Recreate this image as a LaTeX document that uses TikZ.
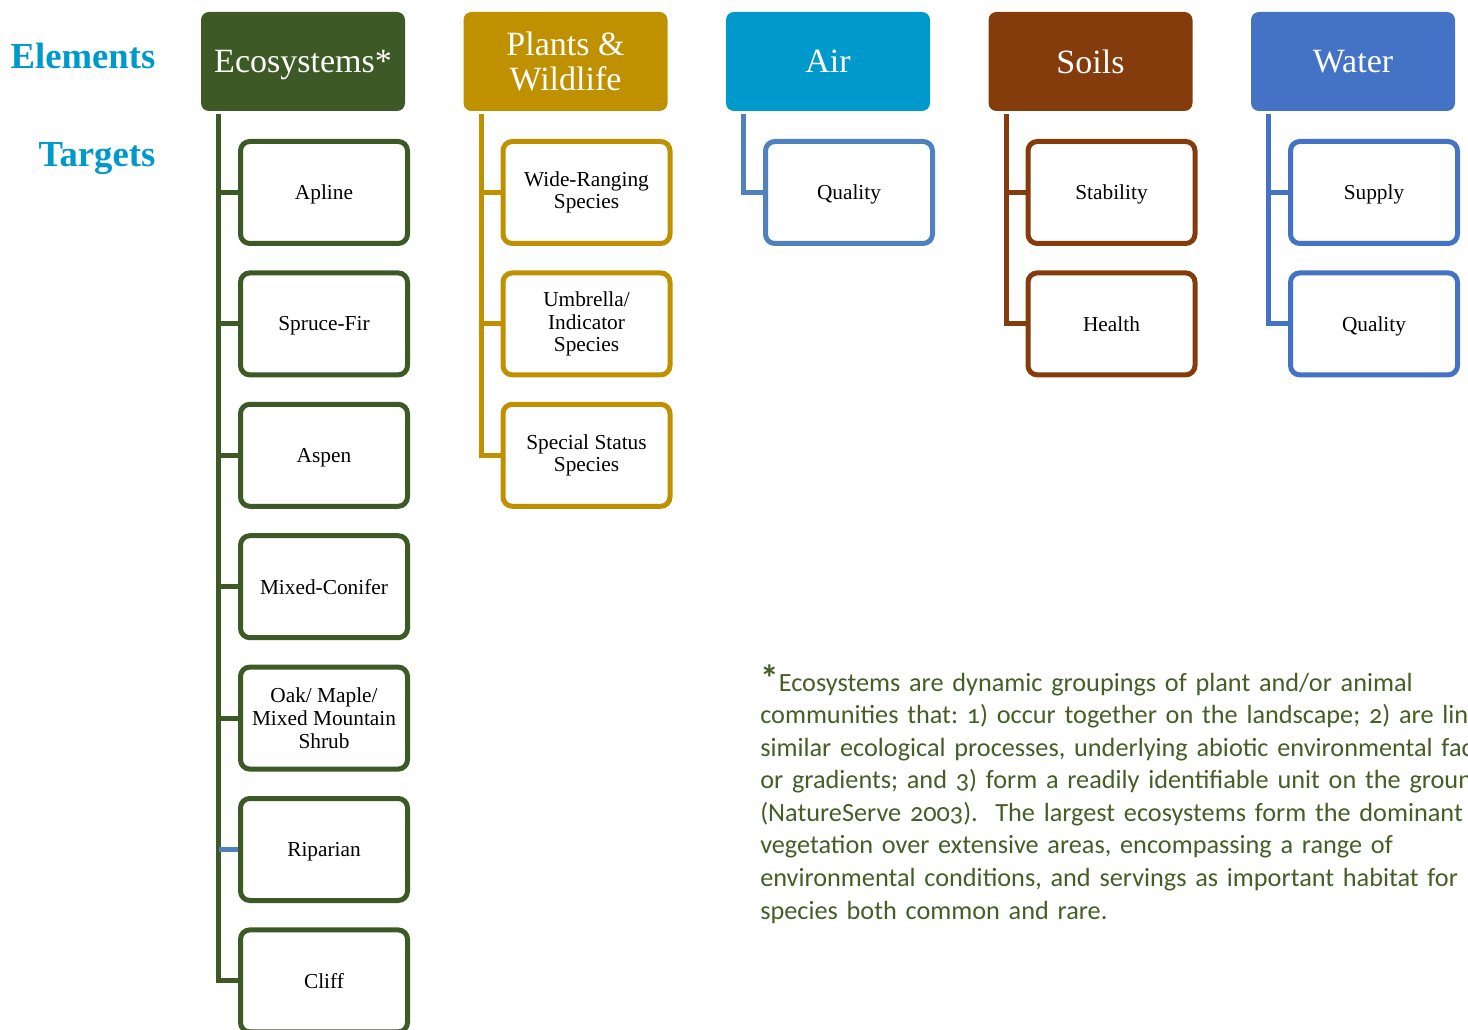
\documentclass[tikz,border=0pt]{standalone}
\usepackage{fontspec}
\setmainfont{Liberation Serif}
\newfontfamily\notefont[Numbers=OldStyle]{Carlito}
\usetikzlibrary{positioning}

\definecolor{ecogreen}{RGB}{61,89,37}
\definecolor{plantgold}{RGB}{191,144,0}
\definecolor{aircyan}{RGB}{0,153,204}
\definecolor{airline}{RGB}{79,129,189}
\definecolor{soilbrown}{RGB}{132,60,12}
\definecolor{waterblue}{RGB}{68,114,196}
\definecolor{notegreen}{RGB}{70,94,38}

\begin{document}
\begin{tikzpicture}[x=0.75pt, y=-0.75pt,
  element/.style = {shape=rectangle, rounded corners=6pt, minimum width=153pt,
    minimum height=74.25pt, inner sep=0pt, align=center, text=white,
    font=\fontsize{25.5}{26}\selectfont},
  target/.style = {shape=rectangle, draw, line width=3.75pt, rounded corners=7pt,
    fill=white, minimum width=125.25pt, minimum height=76.5pt, inner sep=0pt,
    align=center, font=\fontsize{16}{17}\selectfont},
  oneline/.style = {text depth=0pt},
  branch/.style = {line width=3.75pt},
  rowlabel/.style = {anchor=east, text depth=0pt, text=aircyan,
    font=\fontsize{27.5}{28}\selectfont\bfseries}]
\useasboundingbox (0,0) rectangle (1468,1030);
\clip (0,0) rectangle (1468,1030);

\node[rowlabel] (elements) at (160,56) {Elements};
\node[rowlabel] (targets) at (160,154) {Targets};

% elements
\node[element, oneline, fill=ecogreen] (eco) at (303,61.5) {Ecosystems*};
\node[element, fill=plantgold] (plants) at (565.5,61.5) {Plants \&\\Wildlife};
\node[element, oneline, fill=aircyan] (air) at (828,61.5) {Air};
\node[element, oneline, fill=soilbrown] (soils) at (1090.5,61.5) {Soils};
\node[element, oneline, fill=waterblue] (water) at (1353,61.5) {Water};

% ecosystem targets
\node[target, oneline, draw=ecogreen] (apline) at (324,192.5) {Apline};
\node[target, oneline, draw=ecogreen] (spruce) at (324,323.9) {Spruce-Fir};
\node[target, oneline, draw=ecogreen] (aspen) at (324,455.3) {Aspen};
\node[target, oneline, draw=ecogreen] (mixed) at (324,586.7) {Mixed-Conifer};
\node[target, draw=ecogreen] (oak) at (324,718.1) {Oak/ Maple/\\Mixed Mountain\\Shrub};
\node[target, oneline, draw=ecogreen] (riparian) at (324,849.5) {Riparian};
\node[target, oneline, draw=ecogreen] (cliff) at (324,980.9) {Cliff};

% plants & wildlife targets
\node[target, draw=plantgold] (wide) at (586.5,192.5) {Wide-Ranging\\Species};
\node[target, draw=plantgold] (umbrella) at (586.5,323.9) {Umbrella/\\Indicator\\Species};
\node[target, draw=plantgold] (special) at (586.5,455.3) {Special Status\\Species};

% air, soils, water targets
\node[target, oneline, draw=airline] (airquality) at (849,192.5) {Quality};
\node[target, oneline, draw=soilbrown] (stability) at (1111.5,192.5) {Stability};
\node[target, oneline, draw=soilbrown] (health) at (1111.5,323.9) {Health};
\node[target, oneline, draw=waterblue] (supply) at (1374,192.5) {Supply};
\node[target, oneline, draw=waterblue] (waterquality) at (1374,323.9) {Quality};

% connectors
\coordinate (ecotop) at ([xshift=13.5pt, yshift=-2.25pt]eco.south west);
\coordinate (plantstop) at ([xshift=13.5pt, yshift=-2.25pt]plants.south west);
\coordinate (airtop) at ([xshift=13.5pt, yshift=-2.25pt]air.south west);
\coordinate (soilstop) at ([xshift=13.5pt, yshift=-2.25pt]soils.south west);
\coordinate (watertop) at ([xshift=13.5pt, yshift=-2.25pt]water.south west);

\draw[branch, ecogreen] (ecotop) |- (apline.west);
\draw[branch, ecogreen] (ecotop) |- (spruce.west);
\draw[branch, ecogreen] (ecotop) |- (aspen.west);
\draw[branch, ecogreen] (ecotop) |- (mixed.west);
\draw[branch, ecogreen] (ecotop) |- (oak.west);
\draw[branch, ecogreen] (ecotop) |- (cliff.west);
\draw[branch, airline] (riparian.west -| ecotop) -- (riparian.west);

\draw[branch, plantgold] (plantstop) |- (wide.west);
\draw[branch, plantgold] (plantstop) |- (umbrella.west);
\draw[branch, plantgold] (plantstop) |- (special.west);

\draw[branch, airline] (airtop) |- (airquality.west);

\draw[branch, soilbrown] (soilstop) |- (stability.west);
\draw[branch, soilbrown] (soilstop) |- (health.west);

\draw[branch, waterblue] (watertop) |- (supply.west);
\draw[branch, waterblue] (watertop) |- (waterquality.west);

% footnote
\node[anchor=base west, text width=1000pt, align=left, inner sep=0pt, text=notegreen,
  font=\notefont\frenchspacing\fontsize{19.7}{24.45}\selectfont] (note) at (760,691)
  {{\fontsize{28}{24}\selectfont\bfseries*}Ecosystems are dynamic groupings of plant and/or animal\\
   communities that: 1) occur together on the landscape; 2) are linked\\
   similar ecological processes, underlying abiotic environmental factors\\
   or gradients; and 3) form a readily identifiable unit on the ground\\
   (NatureServe 2003).\ \ The largest ecosystems form the dominant\\
   vegetation over extensive areas, encompassing a range of\\
   environmental conditions, and servings as important habitat for\\
   species both common and rare.};
\end{tikzpicture}
\end{document}
